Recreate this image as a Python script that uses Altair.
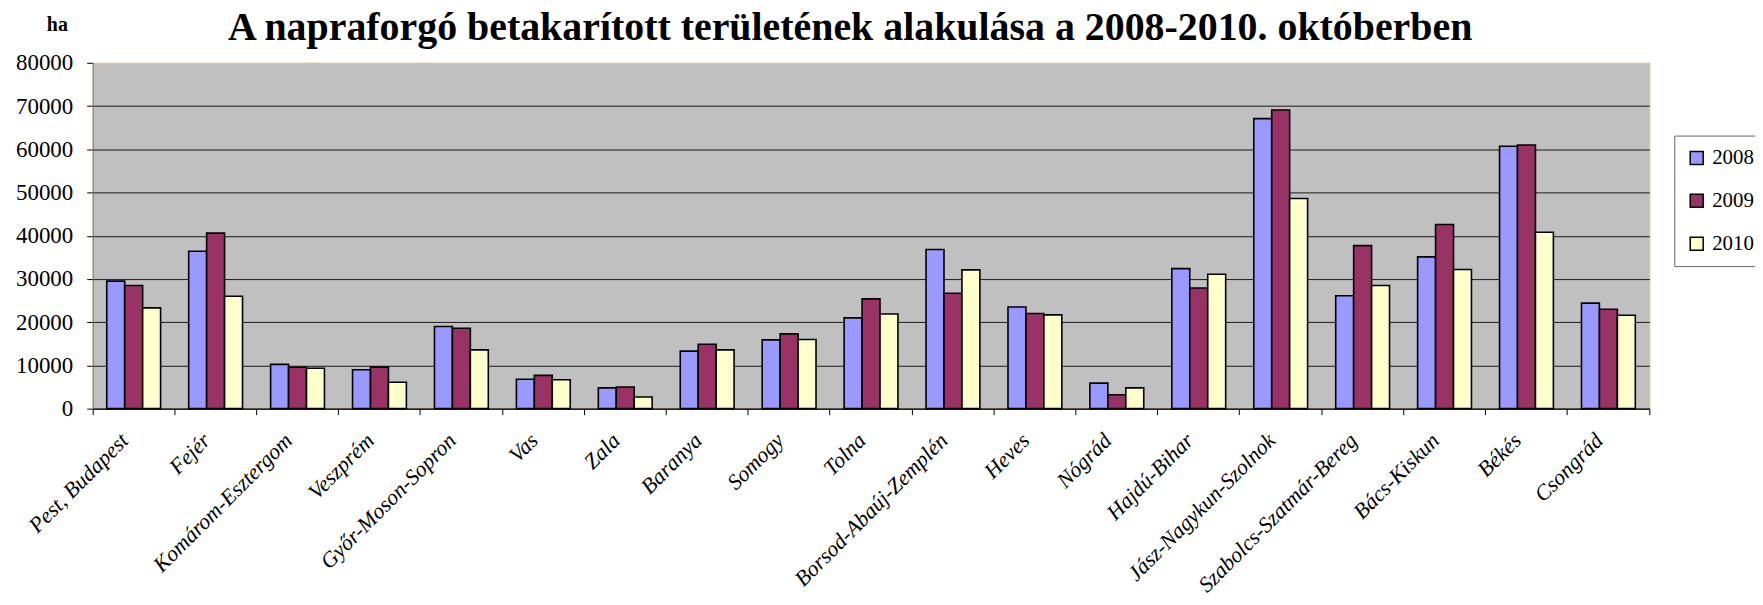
import altair as alt
import pandas as pd

title_text = "A napraforgó betakarított területének alakulása a 2008-2010. októberben"
regions = ["Pest, Budapest", "Fejér", "Komárom-Esztergom", "Veszprém", "Győr-Moson-Sopron",
           "Vas", "Zala", "Baranya", "Somogy", "Tolna", "Borsod-Abaúj-Zemplén", "Heves",
           "Nógrád", "Hajdú-Bihar", "Jász-Nagykun-Szolnok", "Szabolcs-Szatmár-Bereg",
           "Bács-Kiskun", "Békés", "Csongrád"]
years = ["2008", "2009", "2010"]
v2008 = [29500, 36400, 10250, 9000, 19000, 6800, 4800, 13300, 15900, 21000, 36800, 23500,
         5900, 32400, 67100, 26100, 35100, 60700, 24400]
v2009 = [28500, 40600, 9560, 9600, 18600, 7700, 5000, 14900, 17300, 25400, 26700, 22000,
         3200, 27900, 69100, 37700, 42600, 61000, 23000]
v2010 = [23300, 26000, 9330, 6100, 13600, 6700, 2700, 13600, 16000, 21900, 32100, 21700,
         4800, 31100, 48600, 28500, 32200, 40800, 21600]
colors = ["#9999FF", "#993366", "#FFFFCC"]
y_ticks = [0, 10000, 20000, 30000, 40000, 50000, 60000, 70000, 80000]

rows = []
for series, vals in zip(years, [v2008, v2009, v2010]):
    for r, v in zip(regions, vals):
        rows.append({"region": r, "year": series, "value": v})
df = pd.DataFrame(rows)
title_df = pd.DataFrame({"t": [title_text]})

FONT = "Liberation Serif"
W, H = 1562, 347

bars = alt.Chart(df).mark_bar(stroke="black", strokeWidth=1.6).encode(
    x=alt.X("region:N", sort=regions, title=None,
            scale=alt.Scale(paddingInner=0, paddingOuter=0),
            axis=alt.Axis(bandPosition=1, tickExtra=True, labelOffset=-9,
                          labelAngle=-45, labelAlign="right", labelBaseline="middle",
                          labelFont=FONT, labelFontSize=22, labelFontStyle="italic",
                          labelPadding=22, labelLimit=0, tickSize=6, tickColor="black",
                          domainColor="black", labelColor="black", grid=False)),
    xOffset=alt.XOffset("year:N", sort=years,
                        scale=alt.Scale(paddingInner=0, paddingOuter=0.783)),
    y=alt.Y("value:Q", scale=alt.Scale(domain=[0, 80000], nice=False),
            axis=alt.Axis(values=y_ticks, format="d", title="ha", titleAngle=0,
                          titleX=-36, titleY=-32, titleAlign="center",
                          titleBaseline="alphabetic", titleFont=FONT, titleFontSize=20,
                          titleFontWeight="bold", titleColor="black",
                          labelFont=FONT, labelFontSize=23, labelColor="black",
                          labelPadding=14, tickSize=6, tickColor="black",
                          domainColor="#7f6f5f", grid=True,
                          gridColor={"condition": {"test": "datum.value >= 80000",
                                                   "value": "#F2B880"},
                                     "value": "#1a1a1a"},
                          gridWidth=1)),
    color=alt.Color("year:N", sort=years,
                    scale=alt.Scale(domain=years, range=colors),
                    legend=alt.Legend(orient="none", legendX=1587, legendY=73, title=None,
                                      symbolType="square", symbolSize=169,
                                      symbolStrokeColor="black", symbolStrokeWidth=1.5,
                                      labelFont=FONT, labelFontSize=21, labelColor="black",
                                      labelOffset=5, padding=12, rowPadding=21,
                                      labelLimit=0,
                                      strokeColor="#666666", fillColor="white")),
)

title = alt.Chart(title_df).mark_text(
    font=FONT, fontSize=40, fontWeight="bold", color="black",
    align="center", baseline="alphabetic"
).encode(text="t:N", x=alt.value(760), y=alt.value(-23))

chart = alt.layer(bars, title).properties(
    width=W, height=H,
    autosize=alt.AutoSizeParams(type="none"),
    padding={"left": 85, "top": 54, "right": 106, "bottom": 188},
).configure_view(
    fill="#C0C0C0", stroke="#F2B880", strokeWidth=1
)

chart.save("out.html", embed_options={"renderer": "svg", "actions": False})
